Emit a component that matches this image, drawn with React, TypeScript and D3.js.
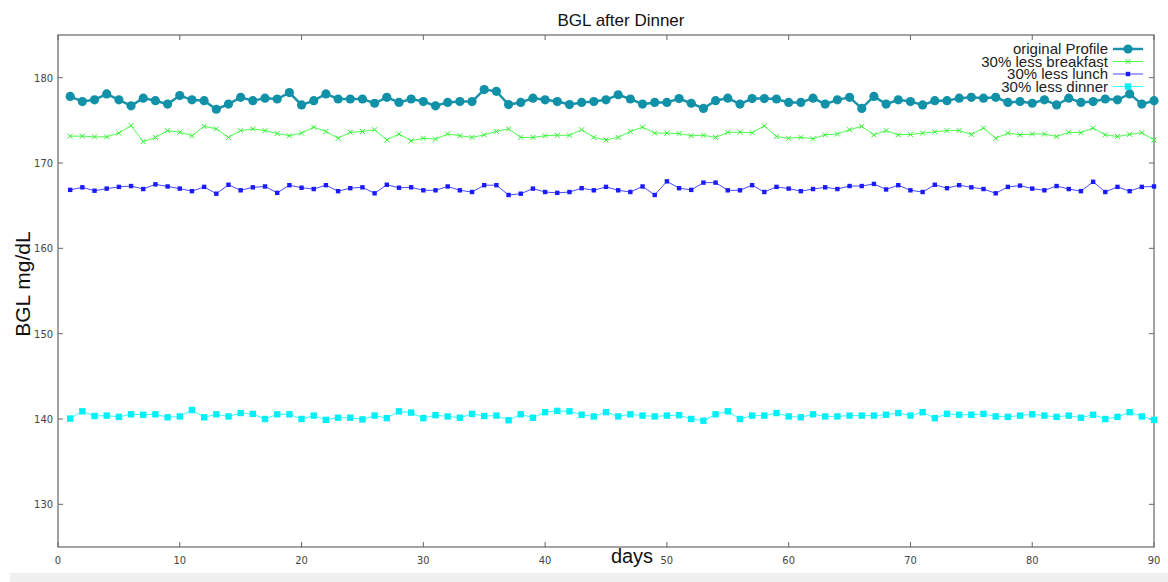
import React from "react";
import * as d3 from "d3";

const title = "BGL after Dinner";
const xLabel = "days";
const yLabel = "BGL mg/dL";
const xTicks = [0, 10, 20, 30, 40, 50, 60, 70, 80, 90];
const yTicks = [130, 140, 150, 160, 170, 180];
const seriesNames = ["original Profile", "30% less breakfast", "30% less lunch", "30% less dinner"];

const original = [
  177.8, 177.2, 177.4, 178.1, 177.4, 176.7, 177.6, 177.3, 176.9, 177.9,
  177.4, 177.3, 176.3, 176.9, 177.7, 177.3, 177.6, 177.5, 178.25, 176.8,
  177.3, 178.1, 177.5, 177.5, 177.5, 177.0, 177.7, 177.1, 177.5, 177.2,
  176.7, 177.1, 177.2, 177.2, 178.6, 178.4, 176.85, 177.1, 177.6, 177.4,
  177.2, 176.85, 177.1, 177.2, 177.4, 178.0, 177.5, 176.9, 177.1, 177.1,
  177.55, 177.0, 176.4, 177.3, 177.6, 176.9, 177.55, 177.55, 177.5, 177.1,
  177.1, 177.6, 176.9, 177.4, 177.7, 176.4, 177.8, 176.9, 177.4, 177.2,
  176.8, 177.3, 177.3, 177.6, 177.7, 177.6, 177.7, 177.1, 177.2, 177.0,
  177.4, 176.8, 177.6, 177.1, 177.2, 177.5, 177.4, 178.1, 176.9, 177.3,
];

const lessBreakfast = [
  173.15, 173.15, 173.07, 173.07, 173.5, 174.4, 172.5, 173.0, 173.8, 173.6,
  173.2, 174.3, 174.0, 173.0, 173.8, 174.0, 173.8, 173.45, 173.2, 173.5,
  174.2, 173.7, 172.9, 173.6, 173.7, 173.9, 172.7, 173.4, 172.6, 172.9,
  172.8, 173.4, 173.2, 173.0, 173.3, 173.7, 174.0, 173.0, 173.0, 173.2,
  173.25, 173.25, 173.9, 173.0, 172.7, 173.0, 173.7, 174.2, 173.5, 173.5,
  173.45, 173.2, 173.25, 173.0, 173.6, 173.6, 173.55, 174.35, 173.1, 172.9,
  173.0, 172.85, 173.3, 173.4, 173.9, 174.3, 173.3, 173.8, 173.3, 173.35,
  173.5, 173.65, 173.8, 173.8, 173.35, 174.1, 172.9, 173.5, 173.3, 173.4,
  173.4, 173.1, 173.6, 173.55, 174.1, 173.3, 173.1, 173.35, 173.55, 172.7,
];

const lessLunch = [
  166.85, 167.15, 166.75, 167.0, 167.2, 167.3, 166.95, 167.5, 167.25, 167.0,
  166.7, 167.2, 166.4, 167.45, 166.8, 167.15, 167.25, 166.5, 167.4, 167.1,
  166.95, 167.4, 166.7, 167.05, 167.15, 166.45, 167.45, 167.1, 167.15, 166.8,
  166.8, 167.25, 166.8, 166.6, 167.4, 167.4, 166.25, 166.4, 167.0, 166.6,
  166.5, 166.6, 167.05, 166.8, 167.2, 166.8, 166.6, 167.25, 166.25, 167.85,
  167.05, 166.85, 167.7, 167.7, 166.8, 166.8, 167.4, 166.6, 167.2, 167.0,
  166.7, 166.95, 167.15, 166.95, 167.3, 167.3, 167.55, 166.9, 167.4, 166.8,
  166.6, 167.45, 167.05, 167.4, 167.15, 166.95, 166.45, 167.2, 167.35, 167.0,
  166.8, 167.3, 166.95, 166.7, 167.8, 166.6, 167.2, 166.7, 167.2, 167.25,
];

const lessDinner = [
  140.05, 140.9, 140.35, 140.4, 140.25, 140.55, 140.5, 140.55, 140.2, 140.3,
  141.05, 140.2, 140.55, 140.3, 140.7, 140.6, 140.0, 140.55, 140.55, 140.0,
  140.4, 139.9, 140.15, 140.15, 139.95, 140.4, 140.1, 140.9, 140.75, 140.1,
  140.45, 140.3, 140.15, 140.6, 140.35, 140.4, 139.85, 140.55, 140.15, 140.8,
  140.95, 140.9, 140.5, 140.3, 140.8, 140.3, 140.55, 140.4, 140.3, 140.4,
  140.45, 140.0, 139.8, 140.55, 140.9, 140.0, 140.4, 140.4, 140.7, 140.3,
  140.2, 140.55, 140.3, 140.3, 140.4, 140.4, 140.4, 140.5, 140.7, 140.4,
  140.8, 140.1, 140.6, 140.5, 140.5, 140.6, 140.3, 140.25, 140.4, 140.55,
  140.4, 140.25, 140.4, 140.15, 140.5, 140.0, 140.25, 140.8, 140.3, 139.9,
];

const W = 1168;
const H = 582;
const left = 58;
const right = 1154;
const top = 35;
const bottom = 547;

type Marker = "circle" | "x" | "smallsq" | "square";

export default function App() {
  const x = d3.scaleLinear().domain([0, 90]).range([left, right]);
  const y = d3.scaleLinear().domain([125, 185]).range([bottom, top]);
  const series: { name: string; values: number[]; color: string; mcolor: string; width: number; marker: Marker }[] = [
    { name: seriesNames[0], values: original, color: "#1a93ab", mcolor: "#1191a8", width: 2.5, marker: "circle" },
    { name: seriesNames[1], values: lessBreakfast, color: "#4cff4c", mcolor: "#33ee33", width: 1, marker: "x" },
    { name: seriesNames[2], values: lessLunch, color: "#4a4aff", mcolor: "#1a1aff", width: 1, marker: "smallsq" },
    { name: seriesNames[3], values: lessDinner, color: "#33ffff", mcolor: "#00f0f8", width: 1, marker: "square" },
  ];
  const line = d3
    .line<number>()
    .x((_, i) => x(i + 1))
    .y((v) => y(v));

  const drawMarker = (m: Marker, cx: number, cy: number, color: string, key: string) => {
    if (m === "circle") return <circle key={key} cx={cx} cy={cy} r={4.6} fill={color} />;
    if (m === "x")
      return (
        <path key={key} d={`M${cx - 2.5},${cy - 2.5}L${cx + 2.5},${cy + 2.5}M${cx - 2.5},${cy + 2.5}L${cx + 2.5},${cy - 2.5}`} stroke={color} strokeWidth={1} fill="none" />
      );
    if (m === "smallsq") return <rect key={key} x={cx - 2.2} y={cy - 2.2} width={4.4} height={4.4} fill={color} />;
    return <rect key={key} x={cx - 3.2} y={cy - 3.2} width={6.4} height={6.4} fill={color} />;
  };

  const tickFont = "'DejaVu Sans Condensed', 'Liberation Sans Narrow', 'DejaVu Sans', sans-serif";
  const textFont = "'Liberation Sans', Arial, sans-serif";
  const legendY = [49, 61.5, 74, 86.5];

  return (
    <svg width={W} height={H} style={{ position: "absolute", left: 0, top: 0, background: "#fff" }}>
      <rect x={0} y={0} width={W} height={H} fill="#fff" />
      <rect x={10} y={573} width={W - 10} height={9} fill="#f0f0f0" />
      {/* frame */}
      <rect x={left} y={top} width={right - left} height={bottom - top} fill="none" stroke="#666" strokeWidth={1.2} />
      {xTicks.map((t) => (
        <g key={"xt" + t}>
          <line x1={x(t)} x2={x(t)} y1={bottom} y2={bottom - 5} stroke="#666" />
          <line x1={x(t)} x2={x(t)} y1={top} y2={top + 5} stroke="#666" />
          <text x={x(t)} y={564} textAnchor="middle" fontFamily={tickFont} fontSize={11} fill="#444">
            {t}
          </text>
        </g>
      ))}
      {yTicks.map((t) => (
        <g key={"yt" + t}>
          <line x1={left} x2={left + 5} y1={y(t)} y2={y(t)} stroke="#666" />
          <line x1={right} x2={right - 5} y1={y(t)} y2={y(t)} stroke="#666" />
          <text x={53} y={y(t) + 4} textAnchor="end" fontFamily={tickFont} fontSize={11} fill="#444">
            {t}
          </text>
        </g>
      ))}
      {series.map((s) => (
        <g key={s.name}>
          <path d={line(s.values) ?? ""} fill="none" stroke={s.color} strokeWidth={s.width} />
          {s.values.map((v, i) => drawMarker(s.marker, x(i + 1), y(v), s.mcolor, s.name + i))}
        </g>
      ))}
      {series.map((s, i) => (
        <g key={"lg" + s.name}>
          <text x={1108} y={legendY[i] + 5} textAnchor="end" fontFamily={textFont} fontSize={15} fill="#222">
            {s.name}
          </text>
          <line x1={1113} x2={1143} y1={legendY[i]} y2={legendY[i]} stroke={s.color} strokeWidth={s.width} />
          {drawMarker(s.marker, 1128, legendY[i], s.mcolor, "lm" + i)}
        </g>
      ))}
      <text x={621} y={26} textAnchor="middle" fontFamily={textFont} fontSize={17} fill="#111">
        {title}
      </text>
      <text x={632} y={563} textAnchor="middle" fontFamily={textFont} fontSize={20} fill="#111">
        {xLabel}
      </text>
      <text transform={`translate(30,${284}) rotate(-90)`} textAnchor="middle" fontFamily={textFont} fontSize={21} fill="#111">
        {yLabel}
      </text>
    </svg>
  );
}
